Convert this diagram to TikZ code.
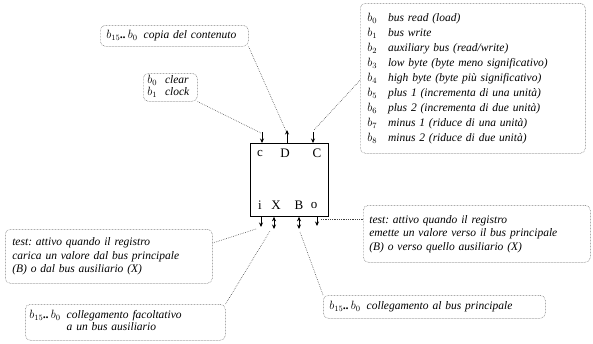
\documentclass[tikz,border=0pt]{standalone}
\usepackage{fontspec}
\setmainfont{Liberation Serif}
\usetikzlibrary{arrows.meta,calc}

\newcommand{\bdots}{$b_{15}$\textbf{..}\,$b_0$}
\frenchspacing

\begin{document}
\begin{tikzpicture}[x=1pt,y=1pt,yscale=-1,
  note/.style={draw=gray,line width=0.6pt,dash pattern=on 0.6pt off 0.9pt,rounded corners=5pt,
    anchor=north west,inner xsep=6pt,inner ysep=2pt,align=left,
    font=\fontsize{11.5}{13.5}\selectfont\itshape},
  leader/.style={draw=black!75,line width=0.6pt,dash pattern=on 0.6pt off 1.2pt},
  sig/.style={-{Stealth[length=4.5pt,width=4pt]},line width=0.7pt},
  bus/.style={{Stealth[length=4.5pt,width=4pt]}-{Stealth[length=4.5pt,width=4pt]},line width=0.9pt},
  pin/.style={font=\fontsize{13}{14}\selectfont,inner sep=0pt}]
  \useasboundingbox (0,0) rectangle (593,343);

  % register
  \node[draw,line width=0.8pt,anchor=north west,minimum width=78,minimum height=73] (reg) at (250,143) {};
  \node[pin] (pc) at (260,153) {c};
  \node[pin] (pd) at (285,153) {D};
  \node[pin] (pC) at (317,153) {C};
  \node[pin] (pi) at (260,205) {i};
  \node[pin] (pX) at (276,205) {X};
  \node[pin] (pB) at (299,205) {B};
  \node[pin] (po) at (314,205) {o};

  % pin arrows
  \coordinate (c-top) at (262,132);
  \coordinate (d-top) at (287,130);
  \coordinate (C-top) at (313,132);
  \coordinate (i-bot) at (261,227);
  \coordinate (x-bot) at (274,229);
  \coordinate (b-bot) at (299,229);
  \coordinate (o-bot) at (317,226);
  \draw[sig] (c-top) -- (c-top |- reg.north);
  \draw[sig] (d-top |- reg.north) -- (d-top);
  \draw[sig] (C-top) -- (C-top |- reg.north);
  \draw[sig] (i-bot |- reg.south) -- (i-bot);
  \draw[bus] (x-bot |- reg.south) -- (x-bot);
  \draw[bus] (b-bot |- reg.south) -- (b-bot);
  \draw[sig] (o-bot |- reg.south) -- (o-bot);

  % notes
  \node[note,text width=136,minimum height=21] (copy) at (100,25) {\bdots\hspace{6pt}copia del contenuto};
  \node[note,text width=46,minimum height=25,inner xsep=4pt,font=\fontsize{11.5}{12}\selectfont\itshape] (clr) at (143,73)
    {\begin{tabular}{@{}l@{\hspace{8pt}}l@{}}$b_0$ & clear\\ $b_1$ & clock\end{tabular}};
  \node[note,text width=211,minimum height=150,inner xsep=7pt,font=\fontsize{11.5}{15}\selectfont\itshape] (ctl) at (360,3)
    {\begin{tabular}{@{}l@{\hspace{11pt}}l@{}}
      $b_0$ & bus read (load)\\
      $b_1$ & bus write\\
      $b_2$ & auxiliary bus (read/write)\\
      $b_3$ & low byte (byte meno significativo)\\
      $b_4$ & high byte (byte più significativo)\\
      $b_5$ & plus 1 (incrementa di una unità)\\
      $b_6$ & plus 2 (incrementa di due unità)\\
      $b_7$ & minus 1 (riduce di una unità)\\
      $b_8$ & minus 2 (riduce di due unità)
    \end{tabular}};
  \node[note,text width=193,minimum height=54,inner xsep=7pt] (ltest) at (5,229)
    {test: attivo quando il registro\\carica un valore dal bus principale\\(B) o dal bus ausiliario (X)};
  \node[note,text width=215,minimum height=57] (rtest) at (363,205)
    {test: attivo quando il registro\\emette un valore verso il bus principale\\(B) o verso quello ausiliario (X)};
  \node[note,text width=192,minimum height=36,inner xsep=4pt,font=\fontsize{11.5}{12}\selectfont\itshape] (aux) at (25,304)
    {\begin{tabular}{@{}l@{\hspace{6pt}}l@{}}\bdots & collegamento facoltativo\\ & a un bus ausiliario\end{tabular}};
  \node[note,text width=210,minimum height=23] (main) at (323,295) {\bdots\hspace{6pt}collegamento al bus principale};

  % leaders
  \draw[leader] (copy.south east) -- ($(d-top)+(-1,1)$);
  \draw[leader] (clr.south east) -- ($(c-top)+(-1,1)$);
  \draw[leader] ($(ctl.west)+(0,2)$) -- ($(C-top)+(1,-2)$);
  \draw[leader] ($(ltest.north east)+(0,14)$) -- ($(i-bot)+(-5,2)$);
  \draw[leader] ($(rtest.north west)+(0,14)$) -- ($(o-bot)+(3,-7)$);
  \draw[leader] (aux.north east) -- ($(x-bot)+(-4,2)$);
  \draw[leader] (main.north west) -- ($(b-bot)+(1,3)$);
\end{tikzpicture}
\end{document}
